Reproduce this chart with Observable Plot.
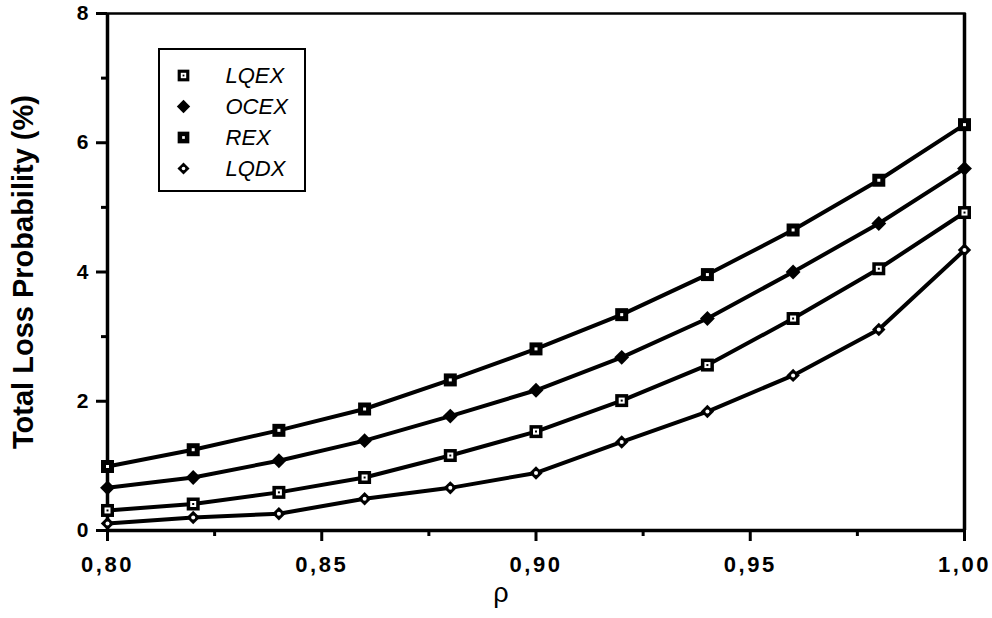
<!DOCTYPE html>
<html>
<head>
<meta charset="utf-8">
<script src="https://cdn.jsdelivr.net/npm/d3@7"></script>
<script src="https://cdn.jsdelivr.net/npm/@observablehq/plot@0.6"></script>
<style>
  html, body { margin: 0; padding: 0; background: #fff; }
  #wrap { position: relative; width: 992px; height: 618px; }
  #legendBox { position: absolute; left: 158px; top: 48px; width: 148px; height: 144px;
    box-sizing: border-box; border: 2.5px solid #000; background: #fff; }
  #legend { position: absolute; left: 158px; top: 48px; }
  g[aria-label="x-axis tick label"] text { letter-spacing: 2.5px; }
</style>
</head>
<body>
<div id="wrap"><div id="chart"></div><div id="legendBox"></div><div id="legend"></div></div>
<script>
// ---- data ----
const rho  = [0.80, 0.82, 0.84, 0.86, 0.88, 0.90, 0.92, 0.94, 0.96, 0.98, 1.00];
const rex  = [0.99, 1.25, 1.55, 1.88, 2.33, 2.81, 3.34, 3.96, 4.65, 5.42, 6.28];
const ocex = [0.66, 0.82, 1.08, 1.39, 1.77, 2.17, 2.68, 3.28, 4.00, 4.75, 5.60];
const lqex = [0.31, 0.41, 0.59, 0.82, 1.16, 1.53, 2.01, 2.56, 3.28, 4.05, 4.92];
const lqdx = [0.11, 0.20, 0.26, 0.49, 0.66, 0.89, 1.37, 1.84, 2.40, 3.11, 4.34];
const seriesNames = ["LQEX", "OCEX", "REX", "LQDX"];
const xTicks = [0.80, 0.85, 0.90, 0.95, 1.00];
const xMinorTicks = [0.825, 0.875, 0.925, 0.975];
const yTicks = [0, 2, 4, 6, 8];
const yMinorTicks = [1, 3, 5, 7];
const xLabel = "ρ";
const yLabel = "Total Loss Probability (%)";

// ---- build table ----
const seriesValues = {LQEX: lqex, OCEX: ocex, REX: rex, LQDX: lqdx};
const rows = seriesNames.flatMap(s => rho.map((r, i) => ({series: s, rho: r, value: seriesValues[s][i]})));
const of = s => rows.filter(d => d.series === s);

const FONT = "Liberation Sans, Arial, Helvetica, sans-serif";
const fmt = d => d.toFixed(2).replace(".", ",");

// marker layers (square side = r*sqrt(pi))
function markers(data, key, o, k = 1) {
  const sq = (side) => side * k / Math.sqrt(Math.PI);
  if (key === "REX") return [
    Plot.dot(data, {...o, symbol: "square", r: sq(13), fill: "black"}),
    Plot.dot(data, {...o, symbol: "square", r: sq(3), fill: "white"})
  ];
  if (key === "LQEX") return [
    Plot.dot(data, {...o, symbol: "square", r: sq(13), fill: "black"}),
    Plot.dot(data, {...o, symbol: "square", r: sq(6), fill: "white"}),
    Plot.dot(data, {...o, symbol: "square", r: sq(2), fill: "black"})
  ];
  if (key === "OCEX") return [
    Plot.dot(data, {...o, symbol: "square", r: sq(10.5), fill: "black", rotate: 45})
  ];
  return [
    Plot.dot(data, {...o, symbol: "square", r: sq(9.5), fill: "black", rotate: 45}),
    Plot.dot(data, {...o, symbol: "circle", r: 2 * k, fill: "white"})
  ];
}

const chart = Plot.plot({
  width: 992,
  height: 618,
  marginLeft: 107,
  marginRight: 28,
  marginTop: 13,
  marginBottom: 88,
  style: {fontFamily: FONT, color: "black", background: "white"},
  x: {domain: [0.80, 1.00], axis: null},
  y: {domain: [0, 8], axis: null},
  marks: [
    Plot.frame({stroke: "black", strokeWidth: 2.5}),
    Plot.ruleX([0.80], {stroke: "black", strokeWidth: 3.5}),
    Plot.ruleX([1.00], {stroke: "black", strokeWidth: 3.5}),
    Plot.ruleY([0], {stroke: "black", strokeWidth: 3.5}),
    Plot.axisX({ticks: xTicks, tickSize: 11, tickPadding: 15, strokeWidth: 3,
      tickFormat: fmt, fontSize: 22, fontWeight: "bold", label: null}),
    Plot.axisX({ticks: xMinorTicks, tickSize: 6, strokeWidth: 3, tickFormat: () => "", label: null}),
    Plot.axisY({ticks: yTicks, tickSize: 11, tickPadding: 8, strokeWidth: 3,
      tickFormat: d => String(d), fontSize: 21, fontWeight: "bold", label: null}),
    Plot.axisY({ticks: yMinorTicks, tickSize: 6, strokeWidth: 3, tickFormat: () => "", label: null}),
    Plot.text([yLabel], {frameAnchor: "left", dx: -84, rotate: -90, textAnchor: "middle",
      fontSize: 29, fontWeight: "bold", fill: "black"}),
    Plot.text([xLabel], {frameAnchor: "bottom", dy: 71, dx: -35, fontSize: 27, fill: "black"}),
    Plot.line(rows, {x: "rho", y: "value", z: "series", stroke: "black", strokeWidth: 4}),
    ...seriesNames.flatMap(s => markers(of(s), s, {x: "rho", y: "value"}))
  ]
});
document.getElementById("chart").appendChild(chart);

const legend = Plot.plot({
  width: 148,
  height: 144,
  marginLeft: 0, marginRight: 0, marginTop: 27, marginBottom: 24,
  style: {fontFamily: FONT, color: "black", background: "transparent"},
  x: {axis: null},
  y: {type: "point", domain: seriesNames, axis: null, padding: 0},
  marks: [
    ...seriesNames.flatMap(s => markers([s], s, {y: d => d, frameAnchor: "left", dx: 25}, 0.9)),
    Plot.text(seriesNames, {y: d => d, frameAnchor: "left", dx: 67, textAnchor: "start",
      fontSize: 22, fontStyle: "italic", fill: "black"})
  ]
});
document.getElementById("legend").appendChild(legend);
</script>
</body>
</html>
